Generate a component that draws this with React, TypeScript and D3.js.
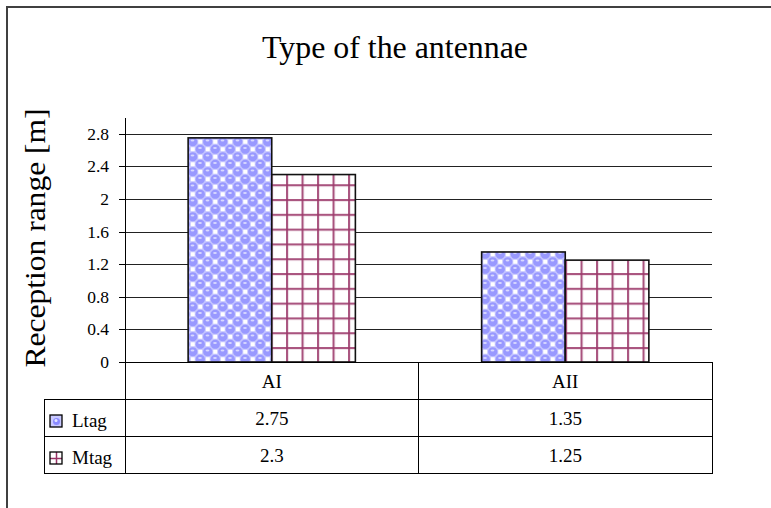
import React from "react";
import * as d3 from "d3";

const categories = ["AI", "AII"];
const seriesNames = ["Ltag", "Mtag"];
const ltagValues = [2.75, 1.35];
const mtagValues = [2.3, 1.25];
const yTicks = [0, 0.4, 0.8, 1.2, 1.6, 2, 2.4, 2.8];
const titleText = "Type of the antennae";
const yAxisTitle = "Reception range [m]";

const W = 771, H = 508;
const plotL = 125, plotR = 712, plotT = 118, plotB = 362;
const rowH = 37;
const legendL = 44;
const font = "'Liberation Serif', 'Times New Roman', serif";

export default function App() {
  const series = [ltagValues, mtagValues];
  const x0 = d3.scaleBand<string>().domain(categories).range([plotL, plotR]).paddingInner(0).paddingOuter(0);
  const x1 = d3.scaleBand<string>().domain(seriesNames).range([0, x0.bandwidth()]).paddingInner(0).paddingOuter(0.755);
  const y = d3.scaleLinear().domain([0, 3]).range([plotB, plotB - 3 * 81.5]);
  const fills = ["url(#sphere)", "url(#grid)"];
  const keyFills = ["url(#sphereKey)", "url(#gridKey)"];
  return (
    <svg width={W} height={H} style={{ position: "absolute", left: 0, top: 0 }}>
      <defs>
        <pattern id="sphere" width={15} height={15} patternUnits="userSpaceOnUse" x={189} y={138}>
          <rect width={15} height={15} fill="#c4c4ff" />
          <rect x={9.25} y={1.75} width={4} height={4} fill="#ffffff" />
          <rect x={1.75} y={9.25} width={4} height={4} fill="#ffffff" />
          <circle cx={3.75} cy={3.75} r={4.6} fill="#9999ff" />
          <circle cx={11.25} cy={11.25} r={4.6} fill="#9999ff" />
          <circle cx={-3.75} cy={11.25} r={4.6} fill="#9999ff" />
          <circle cx={11.25} cy={-3.75} r={4.6} fill="#9999ff" />
          <circle cx={18.75} cy={3.75} r={4.6} fill="#9999ff" />
          <circle cx={3.75} cy={18.75} r={4.6} fill="#9999ff" />
          <ellipse cx={3.5} cy={2.4} rx={1.9} ry={1} fill="#d8d8ff" />
          <ellipse cx={11} cy={9.9} rx={1.9} ry={1} fill="#d8d8ff" />
        </pattern>
        <pattern id="grid" width={15.5} height={14.8} patternUnits="userSpaceOnUse" x={286} y={plotB - 15}>
          <rect width={15.5} height={14.8} fill="#ffffff" />
          <line x1={1} y1={0} x2={1} y2={14.8} stroke="#d3a7bd" strokeWidth={2.6} />
          <line x1={0} y1={1} x2={15.5} y2={1} stroke="#d3a7bd" strokeWidth={2.6} />
          <line x1={1} y1={0} x2={1} y2={14.8} stroke="#993366" strokeWidth={1.4} />
          <line x1={0} y1={1} x2={15.5} y2={1} stroke="#993366" strokeWidth={1.4} />
        </pattern>
        <pattern id="sphereKey" width={12} height={12} patternUnits="userSpaceOnUse" x={50} y={415}>
          <rect width={12} height={12} fill="#c9c9ff" />
          <circle cx={6.5} cy={6.5} r={3.5} fill="#8a8aff" />
          <circle cx={6} cy={5.5} r={1.5} fill="#e6e6ff" />
        </pattern>
        <pattern id="gridKey" width={13} height={13} patternUnits="userSpaceOnUse" x={50} y={453}>
          <rect width={13} height={13} fill="#ffffff" />
          <line x1={6.5} y1={0} x2={6.5} y2={13} stroke="#993366" strokeWidth={1.5} />
          <line x1={0} y1={5.5} x2={13} y2={5.5} stroke="#993366" strokeWidth={1.5} />
        </pattern>
      </defs>
      <rect x={0} y={0} width={W} height={H} fill="#ffffff" />
      <rect x={7} y={7} width={W + 20} height={H + 20} fill="none" stroke="#404040" strokeWidth={2} />
      <text x={395} y={58} textAnchor="middle" fontFamily={font} fontSize={31} fill="#000" textLength={266} lengthAdjust="spacingAndGlyphs">{titleText}</text>
      <text transform={`translate(45,${238}) rotate(-90)`} textAnchor="middle" fontFamily={font} fontSize={29} fill="#000" textLength={259} lengthAdjust="spacingAndGlyphs">{yAxisTitle}</text>
      {yTicks.filter(t => t > 0).map(t => (
        <line key={t} x1={plotL} x2={plotR} y1={Math.round(y(t)) + 0.5} y2={Math.round(y(t)) + 0.5} stroke="#222" strokeWidth={1} />
      ))}
      {yTicks.map(t => (
        <g key={"t" + t}>
          <line x1={plotL - 6} x2={plotL} y1={Math.round(y(t)) + 0.5} y2={Math.round(y(t)) + 0.5} stroke="#000" />
          <text x={109} y={y(t) + 6} textAnchor="end" fontFamily={font} fontSize={17.5} fill="#000">{String(t)}</text>
        </g>
      ))}
      {categories.map((c, ci) => (
        <g key={c}>
          {seriesNames.map((s, si) => {
            const v = series[si][ci];
            const bx = (x0(c) as number) + (x1(s) as number);
            return (
              <rect key={s} x={bx} y={y(v)} width={x1.bandwidth()} height={plotB - y(v)} fill={fills[si]} stroke="#111" strokeWidth={1.6} />
            );
          })}
        </g>
      ))}
      <line x1={plotL + 0.5} x2={plotL + 0.5} y1={plotT} y2={plotB + rowH} stroke="#000" />
      <line x1={plotL} x2={plotR} y1={plotB + 0.5} y2={plotB + 0.5} stroke="#000" />
      {/* data table */}
      <line x1={plotR + 0.5} x2={plotR + 0.5} y1={plotB} y2={plotB + 3 * rowH} stroke="#000" />
      <line x1={418.5} x2={418.5} y1={plotB} y2={plotB + 3 * rowH} stroke="#000" />
      <line x1={plotL + 0.5} x2={plotL + 0.5} y1={plotB} y2={plotB + 3 * rowH} stroke="#000" />
      <line x1={legendL + 0.5} x2={legendL + 0.5} y1={plotB + rowH} y2={plotB + 3 * rowH} stroke="#000" />
      {[1, 2, 3].map(r => (
        <line key={r} x1={legendL} x2={plotR + 1} y1={plotB + r * rowH + 0.5} y2={plotB + r * rowH + 0.5} stroke="#000" />
      ))}
      {categories.map(c => (
        <text key={c} x={(x0(c) as number) + x0.bandwidth() / 2} y={plotB + rowH / 2 + 7} textAnchor="middle" fontFamily={font} fontSize={19} fill="#000">{c}</text>
      ))}
      {seriesNames.map((s, si) => (
        <g key={s}>
          <rect x={50} y={plotB + (si + 1) * rowH + 16} width={12} height={12} fill={keyFills[si]} stroke="#000" strokeWidth={1.3} />
          <text x={72} y={plotB + (si + 1) * rowH + 28} fontFamily={font} fontSize={19} fill="#000">{s}</text>
          {categories.map((c, ci) => (
            <text key={c} x={(x0(c) as number) + x0.bandwidth() / 2} y={plotB + (si + 1) * rowH + 26} textAnchor="middle" fontFamily={font} fontSize={19} fill="#000">{String(series[si][ci])}</text>
          ))}
        </g>
      ))}
    </svg>
  );
}
